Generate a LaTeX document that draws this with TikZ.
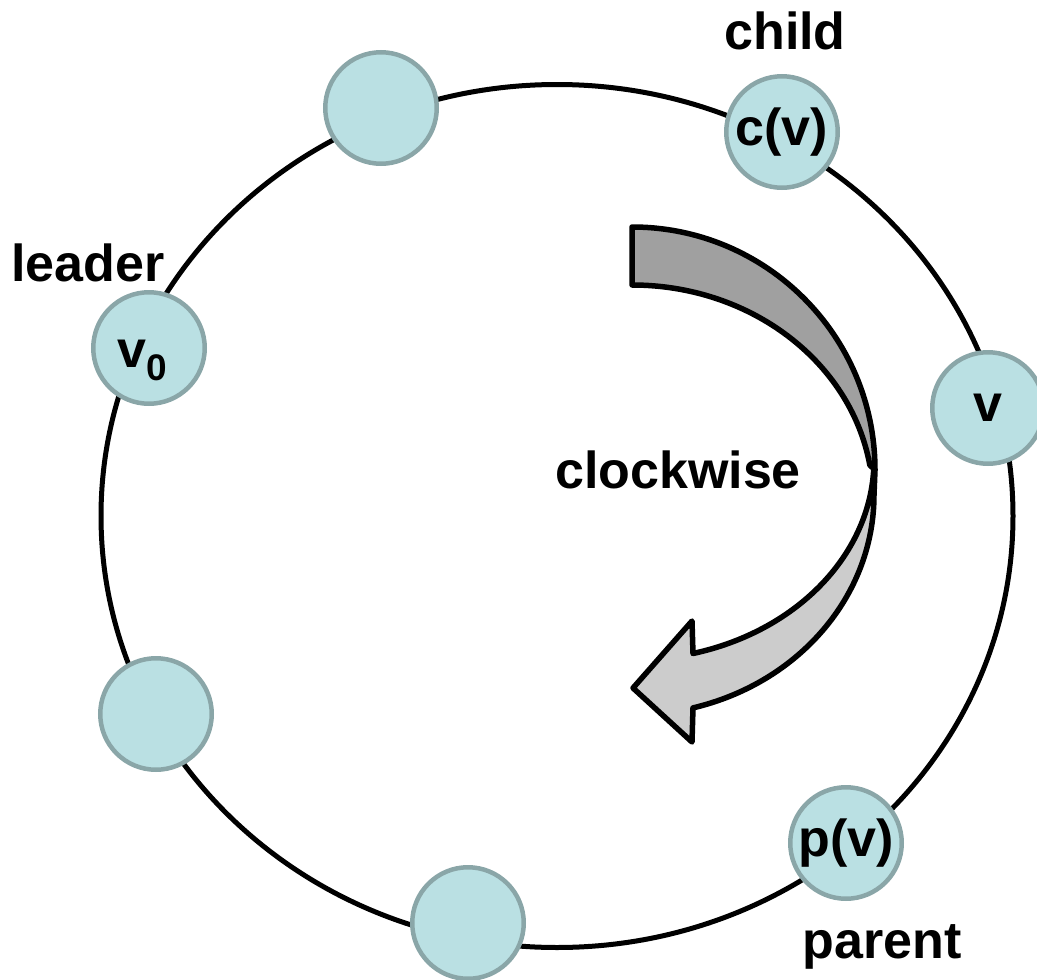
\documentclass[tikz,border=0pt]{standalone}
\usepackage{fontspec}
\setmainfont{Liberation Sans}
\definecolor{nodefill}{RGB}{186,224,227}
\definecolor{nodeedge}{RGB}{138,166,168}
\definecolor{arrowdark}{RGB}{160,160,160}
\definecolor{arrowlight}{RGB}{204,204,204}
\begin{document}
\begin{tikzpicture}[x=1pt,y=-1pt,
  bigfont/.style={font=\bfseries\fontsize{52}{60}\selectfont},
  ringnode/.style={circle, draw=nodeedge, fill=nodefill, line width=4.5pt,
    minimum size=111.5pt, inner sep=0pt, bigfont},
  lbl/.style={bigfont, inner sep=0pt, anchor=base},
  ring/.style={draw=black, line width=5pt},
  arrowline/.style={draw=black, line width=5.5pt, line join=round}]
\useasboundingbox (0,0) rectangle (1037,980);

% the ring
\draw[ring] (557,516) ellipse[x radius=456, y radius=431.5];

% curved block arrow: back face (dark) and front face (light)
\draw[arrowline, fill=arrowdark] (632,227)
  arc[start angle=-90, end angle=0, x radius=243, y radius=243]
  -- (869.8,465)
  arc[start angle=-9.37, end angle=-90, x radius=241, y radius=215]
  -- cycle;
\draw[arrowline, fill=arrowlight] (875,470) -- (874,495)
  arc[start angle=0, end angle=75.4, x radius=242, y radius=220]
  -- (692,742) -- (633,688) -- (692,621) -- (693,653.5)
  arc[start angle=75.4, end angle=2.87, x radius=242, y radius=200]
  -- cycle;

% processes on the ring
\node[ringnode] (n1) at (381,108) {};
\node[ringnode] (cv) at (782,132) {c(v)};
\node[ringnode] (v0) at (149,348)
  {\raisebox{0pt}[39pt][0pt]{v\raisebox{-13pt}{\fontsize{37}{40}\selectfont 0}}\kern14pt};
\node[ringnode] (v)  at (988,408) {v};
\node[ringnode] (n5) at (156,714) {};
\node[ringnode] (pv) at (846,843) {p(v)};
\node[ringnode] (n7) at (468,923) {};

% labels
\node[lbl] (lchild)  at (785,49)  {child};
\node[lbl] (lleader) at (88,281)  {leader};
\node[lbl] (lparent) at (882,958) {parent};
\node[lbl] (lclock)  at (678,488) {clockwise};
\end{tikzpicture}
\end{document}
